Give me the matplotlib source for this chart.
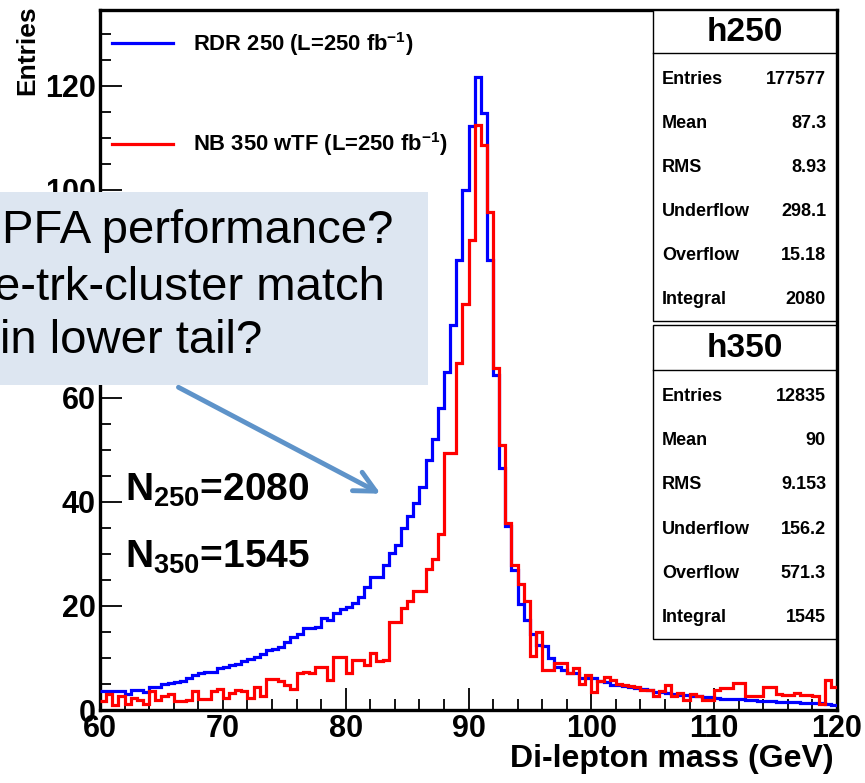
import numpy as np
import matplotlib
matplotlib.use("Agg")
import matplotlib.pyplot as plt
from matplotlib.patches import Rectangle, FancyArrowPatch
from matplotlib.lines import Line2D
from matplotlib.ticker import MultipleLocator

plt.rcParams['font.family'] = ['Liberation Sans', 'DejaVu Sans']
plt.rcParams['mathtext.fontset'] = 'custom'
plt.rcParams['mathtext.rm'] = 'Liberation Sans'
plt.rcParams['mathtext.bf'] = 'Liberation Sans:bold'
plt.rcParams['mathtext.it'] = 'Liberation Sans:italic'

# ---------------- data ----------------
mass_lo, mass_hi, n_bins = 60.0, 120.0, 120

rdr250 = [
    3.6, 3.6, 3.6, 3.6, 3.1, 3.9, 3.9, 3.5, 4.4, 4.4,      # 60-65
    5.0, 5.2, 5.4, 5.6, 6.2, 6.8, 7.2, 7.4, 7.4, 8.0,      # 65-70
    8.3, 8.6, 8.9, 9.4, 9.8, 10.2, 10.7, 11.5, 11.8, 12.1, # 70-75
    13.1, 14.1, 14.7, 15.7, 15.7, 16.0, 17.6, 17.3, 18.7, 19.4,  # 75-80
    19.9, 20.6, 21.8, 23.7, 25.6, 25.6, 27.9, 30.2, 31.7, 35.0,  # 80-85
    37.3, 39.8, 42.9, 48.0, 52.1, 58.0, 65.0, 74.0, 86.5, 100.0, # 85-90
    112.3, 121.7, 114.8, 86.5, 64.5, 46.5, 35.3, 27.0, 20.4, 17.3, # 90-95
    14.7, 12.5, 12.3, 10.0, 8.3, 7.7, 7.1, 7.1, 6.1, 6.1,  # 95-100
    6.1, 5.5, 5.4, 4.8, 4.8, 4.6, 4.4, 4.2, 4.0, 3.9,      # 100-105
    3.5, 3.4, 3.2, 3.1, 2.9, 2.8, 2.6, 2.6, 2.5, 2.5,      # 105-110
    2.3, 2.2, 2.2, 2.1, 2.1, 2.0, 1.9, 1.8, 1.8, 1.7,      # 110-115
    1.6, 1.6, 1.6, 1.5, 1.4, 1.4, 1.4, 1.3, 1.1, 1.0,      # 115-120
]

nb350 = [
    1.8, 3.0, 1.0, 2.6, 1.1, 2.3, 2.0, 1.2, 3.7, 2.0,      # 60-65
    2.6, 3.0, 1.8, 1.8, 2.0, 3.6, 2.1, 2.1, 3.7, 4.1,      # 65-70
    2.3, 3.3, 3.9, 3.6, 2.3, 4.4, 2.6, 5.9, 5.9, 5.6,      # 70-75
    4.9, 4.0, 7.1, 7.4, 7.1, 8.3, 8.3, 5.8, 10.1, 10.1,    # 75-80
    7.1, 9.7, 9.7, 8.7, 10.9, 9.5, 9.7, 17.0, 17.0, 19.6,  # 80-85
    21.0, 22.8, 22.8, 27.2, 29.0, 33.8, 49.4, 49.4, 66.7, 78.0,  # 85-90
    90.4, 112.5, 108.7, 95.8, 65.8, 51.0, 36.0, 27.9, 24.2, 21.0, # 90-95
    10.4, 15.0, 7.7, 7.7, 9.0, 9.0, 7.1, 8.0, 5.0, 6.7,    # 95-100
    3.4, 5.5, 6.3, 5.8, 5.0, 4.8, 4.7, 4.5, 3.8, 3.8,      # 100-105
    2.6, 3.7, 4.8, 2.6, 3.2, 1.9, 3.0, 2.6, 1.9, 1.9,      # 105-110
    3.9, 4.3, 4.3, 5.1, 5.1, 2.6, 2.6, 2.6, 4.5, 4.5,      # 110-115
    3.0, 2.8, 2.8, 3.3, 2.9, 2.9, 2.6, 1.1, 5.8, 4.5,      # 115-120
]

label_250 = r'RDR 250 (L=250 fb$^{\mathbf{-1}}$)'
label_350 = r'NB 350 wTF (L=250 fb$^{\mathbf{-1}}$)'

stat_names = ['Entries', 'Mean', 'RMS', 'Underflow', 'Overflow', 'Integral']
stats_h250 = ['177577', '87.3', '8.93', '298.1', '15.18', '2080']
stats_h350 = ['12835', '90', '9.153', '156.2', '571.3', '1545']

x_ticks = [60, 70, 80, 90, 100, 110, 120]
y_ticks = [0, 20, 40, 60, 80, 100, 120]

note_lines = ['PFA performance?', 'e-trk-cluster match', 'in lower tail?']
n_text_250 = r'N$_{\mathbf{250}}$=2080'
n_text_350 = r'N$_{\mathbf{350}}$=1545'

# ---------------- layout helpers ----------------
W, H = 865, 783
fig = plt.figure(figsize=(W / 100, H / 100), dpi=100)


def fx(x):
    return x / W


def fy(y):
    return 1 - y / H


ax = fig.add_axes([fx(100), fy(710), fx(837) - fx(100), fy(10) - fy(710)])

edges = np.linspace(mass_lo, mass_hi, n_bins + 1)
ax.stairs(rdr250, edges, color='#0000ff', lw=2.3, baseline=None, label=label_250, zorder=3)
ax.stairs(nb350, edges, color='#ff0000', lw=2.3, baseline=None, label=label_350, zorder=4)

ax.set_xlim(mass_lo, mass_hi)
ax.set_ylim(0, 134.6)
ax.set_xticks(x_ticks)
ax.set_yticks(y_ticks)
ax.xaxis.set_minor_locator(MultipleLocator(2))
ax.yaxis.set_minor_locator(MultipleLocator(5))
ax.tick_params(which='major', direction='in', length=16, width=1.3, labelsize=22, pad=3,
               top=False, right=False)
ax.tick_params(which='minor', direction='in', length=8, width=1.3, top=False, right=False)
for lab in ax.get_xticklabels() + ax.get_yticklabels():
    lab.set_fontweight('bold')
for sp in ax.spines.values():
    sp.set_linewidth(2.4)

ax.set_xlabel('Di-lepton mass (GeV)', fontsize=23, fontweight='bold', loc='right')
ax.xaxis.set_label_coords(0.995, -0.049)
ax.set_ylabel('Entries', fontsize=19, fontweight='bold', loc='top')
ax.yaxis.set_label_coords(-0.083, 1.007)

leg = ax.legend(loc='upper left', bbox_to_anchor=(fx(112), fy(30)), bbox_transform=fig.transFigure,
                frameon=False, handlelength=2.8, handletextpad=0.9,
                labelspacing=3.3, borderpad=0, borderaxespad=0,
                prop={'weight': 'bold', 'size': 15.8})

# ---------------- stats boxes ----------------
def stat_box(top, bottom, header_y, title, values):
    fig.add_artist(Rectangle((fx(653), fy(bottom)), fx(836) - fx(653), fy(top) - fy(bottom),
                             transform=fig.transFigure, facecolor='white', edgecolor='black',
                             lw=1.0, zorder=5))
    fig.add_artist(Line2D([fx(653), fx(836)], [fy(header_y), fy(header_y)],
                          transform=fig.transFigure, color='black', lw=1.0, zorder=6))
    fig.text(fx(745), fy((top + header_y) / 2 + 1), title, ha='center', va='center',
             fontsize=24, fontweight='bold', zorder=7)
    row0 = header_y + 26
    step = (bottom - 21 - row0) / (len(values) - 1)
    for i, (name, val) in enumerate(zip(stat_names, values)):
        yy = row0 + i * step
        fig.text(fx(662), fy(yy), name, ha='left', va='center', fontsize=13,
                 fontweight='bold', zorder=7)
        fig.text(fx(826), fy(yy), val, ha='right', va='center', fontsize=13,
                 fontweight='bold', zorder=7)


stat_box(10, 321, 53, 'h250', stats_h250)
stat_box(325, 639, 370, 'h350', stats_h350)

# ---------------- N labels ----------------
fig.text(fx(125), fy(501), n_text_250, ha='left', va='baseline', fontsize=28,
         fontweight='bold', zorder=7)
fig.text(fx(125), fy(568), n_text_350, ha='left', va='baseline', fontsize=28,
         fontweight='bold', zorder=7)

# ---------------- annotation overlay ----------------
fig.add_artist(Rectangle((fx(0), fy(385)), fx(428), fy(192) - fy(385),
                         transform=fig.transFigure, facecolor='#DDE6F1', edgecolor='none',
                         zorder=8))
fig.text(fx(2), fy(243), note_lines[0], ha='left', va='baseline', fontsize=34,
         fontweight='normal', zorder=9)
fig.text(fx(385), fy(300), note_lines[1], ha='right', va='baseline', fontsize=34,
         fontweight='normal', zorder=9)
fig.text(fx(0), fy(353), note_lines[2], ha='left', va='baseline', fontsize=34,
         fontweight='normal', zorder=9)

arrow = FancyArrowPatch((fx(176), fy(386)), (fx(383), fy(495)), transform=fig.transFigure,
                        arrowstyle='->,head_length=1.5,head_width=0.75', mutation_scale=10,
                        color='#5E93C9', lw=3.5, zorder=9, capstyle='round')
fig.add_artist(arrow)

fig.savefig('out.png', dpi=100)
